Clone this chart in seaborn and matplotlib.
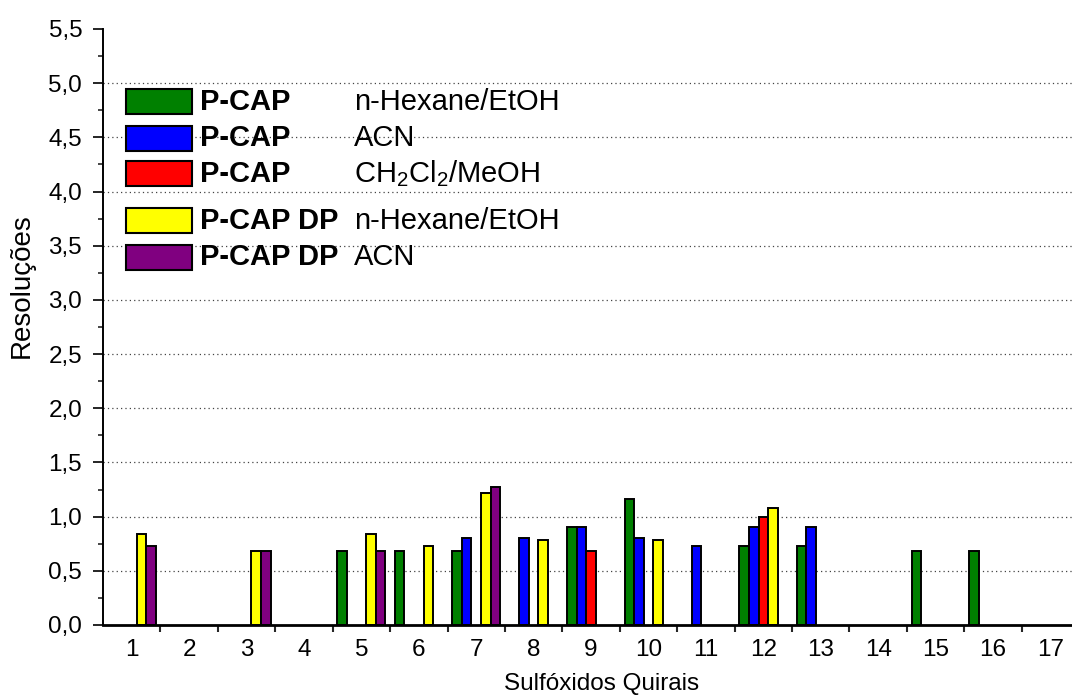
import numpy as np
import pandas as pd
import matplotlib
matplotlib.use('Agg')
import matplotlib.pyplot as plt
from matplotlib.patches import Rectangle
from matplotlib.ticker import MultipleLocator, FixedLocator, FuncFormatter
import seaborn as sns

# data (None = no bar)
categories = [str(i) for i in range(1, 18)]
series = ['P-CAP|n-Hexane/EtOH', 'P-CAP|ACN', 'P-CAP|CH2Cl2/MeOH',
          'P-CAP DP|n-Hexane/EtOH', 'P-CAP DP|ACN']
colors = ['#008000', '#0000FF', '#FF0000', '#FFFF00', '#800080']

pcap_hex = [None, None, None, None, 0.68, 0.68, 0.68, None, 0.90, 1.16, None, 0.73, 0.73, None, 0.68, 0.68, None]
pcap_acn = [None, None, None, None, None, None, 0.80, 0.80, 0.90, 0.80, 0.73, 0.90, 0.90, None, None, None, None]
pcap_dcm = [None, None, None, None, None, None, None, None, 0.68, None, None, 1.00, None, None, None, None, None]
pcapdp_hex = [0.84, None, 0.68, None, 0.84, 0.73, 1.22, 0.78, None, 0.78, None, 1.08, None, None, None, None, None]
pcapdp_acn = [0.73, None, 0.68, None, 0.68, None, 1.27, None, None, None, None, None, None, None, None, None, None]

legend_phase = ['P-CAP', 'P-CAP', 'P-CAP', 'P-CAP DP', 'P-CAP DP']
legend_solvent = ['n-Hexane/EtOH', 'ACN', r'CH$_2$Cl$_2$/MeOH', 'n-Hexane/EtOH', 'ACN']
grid_levels = [0.5, 1.0, 1.5, 2.0, 2.5, 3.0, 3.5, 4.0, 4.5, 5.0]

rows = []
for name, vals in zip(series, [pcap_hex, pcap_acn, pcap_dcm, pcapdp_hex, pcapdp_acn]):
    for c, v in zip(categories, vals):
        rows.append({'cat': c, 'series': name, 'val': np.nan if v is None else v})
df = pd.DataFrame(rows)

sns.set_style('ticks')
plt.rcParams['font.family'] = ['Liberation Sans', 'DejaVu Sans']
plt.rcParams['text.color'] = 'black'
plt.rcParams['axes.labelcolor'] = 'black'
plt.rcParams['mathtext.fontset'] = 'custom'
plt.rcParams['mathtext.rm'] = 'Liberation Sans'
plt.rcParams['mathtext.it'] = 'Liberation Sans'

W, H = 1072, 695
fig = plt.figure(figsize=(W / 100, H / 100), dpi=100)
ax = fig.add_axes([103 / W, 1 - 625 / H, (W - 103) / W, (625 - 29) / H])

sns.barplot(data=df, x='cat', y='val', hue='series', order=categories,
            hue_order=series, palette=colors, saturation=1, width=0.835, dodge=True,
            edgecolor='black', linewidth=1.4, errorbar=None, legend=False, ax=ax)

ax.set_xlim(-0.5, 16.376)
ax.set_ylim(0, 5.5)
ax.yaxis.set_major_locator(MultipleLocator(0.5))
ax.yaxis.set_minor_locator(MultipleLocator(0.25))
ax.yaxis.set_major_formatter(FuncFormatter(lambda v, _: f'{v:.1f}'.replace('.', ',')))
ax.xaxis.set_minor_locator(FixedLocator(np.arange(0.5, 16, 1.0)))

ax.tick_params(axis='y', which='major', length=7, width=1.2, pad=8, labelsize=17.5, colors='black')
ax.tick_params(axis='y', which='minor', length=3.5, width=1.2)
ax.tick_params(axis='x', which='major', length=0, pad=10, labelsize=17.5, colors='black')
ax.tick_params(axis='x', which='minor', length=5, width=1.5)

sns.despine(ax=ax)
ax.spines['left'].set_linewidth(1.4)
ax.spines['bottom'].set_linewidth(2)
ax.spines['left'].set_color('black')
ax.spines['bottom'].set_color('black')

for g in grid_levels:
    ax.axhline(g, color='#444444', linestyle=(0, (1, 2.5)), linewidth=0.9, zorder=0)

ax.set_xlabel('Sulfóxidos Quirais', fontsize=17.5)
ax.set_ylabel('Resoluções', fontsize=20)
ax.xaxis.set_label_coords(0.515, -0.081)
ax.yaxis.set_label_coords(-0.0707, 0.57)


def fx(x):
    return x / W


def fy(y):
    return 1 - y / H


legend_y = [101.5, 138, 173.7, 220.7, 257]
for yc, col, ph, sv in zip(legend_y, colors, legend_phase, legend_solvent):
    fig.add_artist(Rectangle((fx(126), fy(yc + 12.5)), 66 / W, 25 / H,
                             facecolor=col, edgecolor='black', linewidth=1.5,
                             transform=fig.transFigure))
    fig.text(fx(200), fy(yc), ph, fontsize=21, fontweight='bold', va='center', ha='left')
    fig.text(fx(354), fy(yc), sv, fontsize=21, va='center', ha='left')

fig.savefig('out.png', dpi=100)
